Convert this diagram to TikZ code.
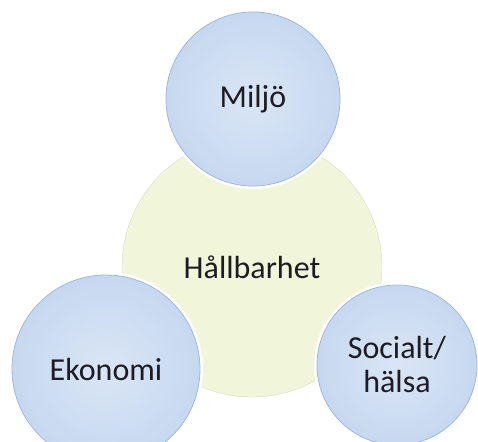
\documentclass[tikz,border=0pt]{standalone}
\usepackage{fontspec}
\setmainfont{Carlito}
\usetikzlibrary{shapes,shadings}

\definecolor{pillarblue}{RGB}{198,216,240}
\definecolor{pillaredge}{RGB}{160,184,222}
\definecolor{coreyellow}{RGB}{241,245,218}
\definecolor{textdark}{RGB}{28,28,34}

\begin{document}
\begin{tikzpicture}[x=1pt,y=-1pt,font=\fontsize{32}{34}\selectfont,text=textdark]
\tikzstyle{pillar}=[circle,preaction={draw=white,line width=6pt},draw=pillaredge,line width=0.8pt,inner color=pillarblue!65!white,outer color=pillarblue,align=center,inner sep=0pt]
\tikzstyle{core}=[circle,fill=coreyellow,draw=coreyellow!80!gray,line width=0.4pt,inner sep=0pt]
\useasboundingbox (0,0) rectangle (478,441);
\fill[white] (0,0) rectangle (478,441);
\node[core,minimum size=260pt] (H) at (252,267) {H\aa llbarhet};
\node[pillar,minimum size=174pt] (M) at (253,99) {Milj\"o};
\node[pillar,minimum size=188pt] (E) at (106,369) {Ekonomi};
\node[pillar,minimum size=160pt] (S) at (397,365) {Socialt/\\h\"alsa};
\end{tikzpicture}
\end{document}
